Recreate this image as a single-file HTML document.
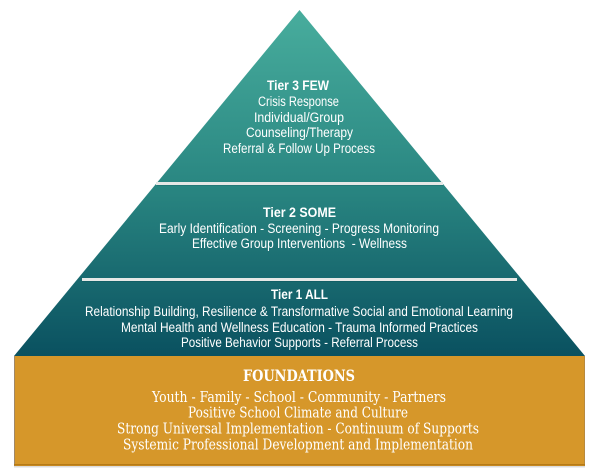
<!DOCTYPE html>
<html>
<head>
<meta charset="utf-8">
<style>
html,body{margin:0;padding:0;background:#fff;}
svg{display:block;}
.t{font-family:"Liberation Sans",sans-serif;fill:#ffffff;text-anchor:middle;}
.f{font-family:"DejaVu Serif","Liberation Serif",serif;fill:#ffffff;text-anchor:middle;}
</style>
</head>
<body>
<svg width="600" height="474" viewBox="0 0 600 474" xmlns="http://www.w3.org/2000/svg">
  <defs>
    <linearGradient id="tg" x1="0" y1="10" x2="0" y2="356" gradientUnits="userSpaceOnUse">
      <stop offset="0" stop-color="#48ad9d"/>
      <stop offset="0.5" stop-color="#2a8782"/>
      <stop offset="1" stop-color="#0a5160"/>
    </linearGradient>
  </defs>
  <!-- pyramid -->
  <polygon points="299.5,10 14,356 585,356" fill="url(#tg)"/>
  <!-- separators -->
  <rect x="157" y="184.5" width="286" height="1.5" fill="#1f6f70" opacity="0.6"/>
  <rect x="156" y="182" width="287" height="3" fill="#e6e8e6"/>
  <rect x="82" y="280.5" width="435" height="1.5" fill="#0f5a60" opacity="0.6"/>
  <rect x="82" y="278" width="435" height="3" fill="#e6e8e6"/>
  <!-- foundations box -->
  <rect x="14" y="356" width="571" height="110" fill="#d6972a"/>
  <rect x="14" y="356" width="1" height="110" fill="#a08868"/>
  <rect x="584" y="356" width="1" height="110" fill="#b88a3e"/>
  <rect x="14" y="464" width="571" height="1.5" fill="#b57a16"/>
  <rect x="14" y="466" width="571" height="1.5" fill="#dcdcdc"/>

  <!-- Tier 3 -->
  <text class="t" x="298" y="90" font-size="14" font-weight="bold" textLength="62" lengthAdjust="spacingAndGlyphs">Tier 3 FEW</text>
  <text class="t" x="298.5" y="106" font-size="13.5" textLength="81" lengthAdjust="spacingAndGlyphs">Crisis Response</text>
  <text class="t" x="299" y="122" font-size="13.5" textLength="90" lengthAdjust="spacingAndGlyphs">Individual/Group</text>
  <text class="t" x="299.5" y="137" font-size="13.5" textLength="107" lengthAdjust="spacingAndGlyphs">Counseling/Therapy</text>
  <text class="t" x="299" y="153" font-size="13.5" textLength="152" lengthAdjust="spacingAndGlyphs">Referral &amp; Follow Up Process</text>

  <!-- Tier 2 -->
  <text class="t" x="299.5" y="217" font-size="14" font-weight="bold" textLength="73" lengthAdjust="spacingAndGlyphs">Tier 2 SOME</text>
  <text class="t" x="299" y="233" font-size="13.5" textLength="280" lengthAdjust="spacingAndGlyphs">Early Identification - Screening - Progress Monitoring</text>
  <text class="t" x="299.5" y="248" font-size="13.5" textLength="215" lengthAdjust="spacingAndGlyphs">Effective Group Interventions&#160; - Wellness</text>

  <!-- Tier 1 -->
  <text class="t" x="299.5" y="299" font-size="14" font-weight="bold" textLength="57" lengthAdjust="spacingAndGlyphs">Tier 1 ALL</text>
  <text class="t" x="299" y="316" font-size="13.5" textLength="428" lengthAdjust="spacingAndGlyphs">Relationship Building, Resilience &amp; Transformative Social and Emotional Learning</text>
  <text class="t" x="299.5" y="332" font-size="13.5" textLength="357" lengthAdjust="spacingAndGlyphs">Mental Health and Wellness Education - Trauma Informed Practices</text>
  <text class="t" x="299.5" y="347" font-size="13.5" textLength="237" lengthAdjust="spacingAndGlyphs">Positive Behavior Supports - Referral Process</text>

  <!-- Foundations -->
  <text class="f" x="299" y="381" font-size="16" font-weight="bold" textLength="112" lengthAdjust="spacingAndGlyphs">FOUNDATIONS</text>
  <text class="f" x="299" y="402" font-size="14.5" textLength="294" lengthAdjust="spacingAndGlyphs">Youth - Family - School - Community - Partners</text>
  <text class="f" x="298" y="417.5" font-size="14.5" textLength="220" lengthAdjust="spacingAndGlyphs">Positive School Climate and Culture</text>
  <text class="f" x="298" y="433.5" font-size="14.5" textLength="362" lengthAdjust="spacingAndGlyphs">Strong Universal Implementation - Continuum of Supports</text>
  <text class="f" x="298" y="449.5" font-size="14.5" textLength="350" lengthAdjust="spacingAndGlyphs">Systemic Professional Development and Implementation</text>
</svg>
</body>
</html>
